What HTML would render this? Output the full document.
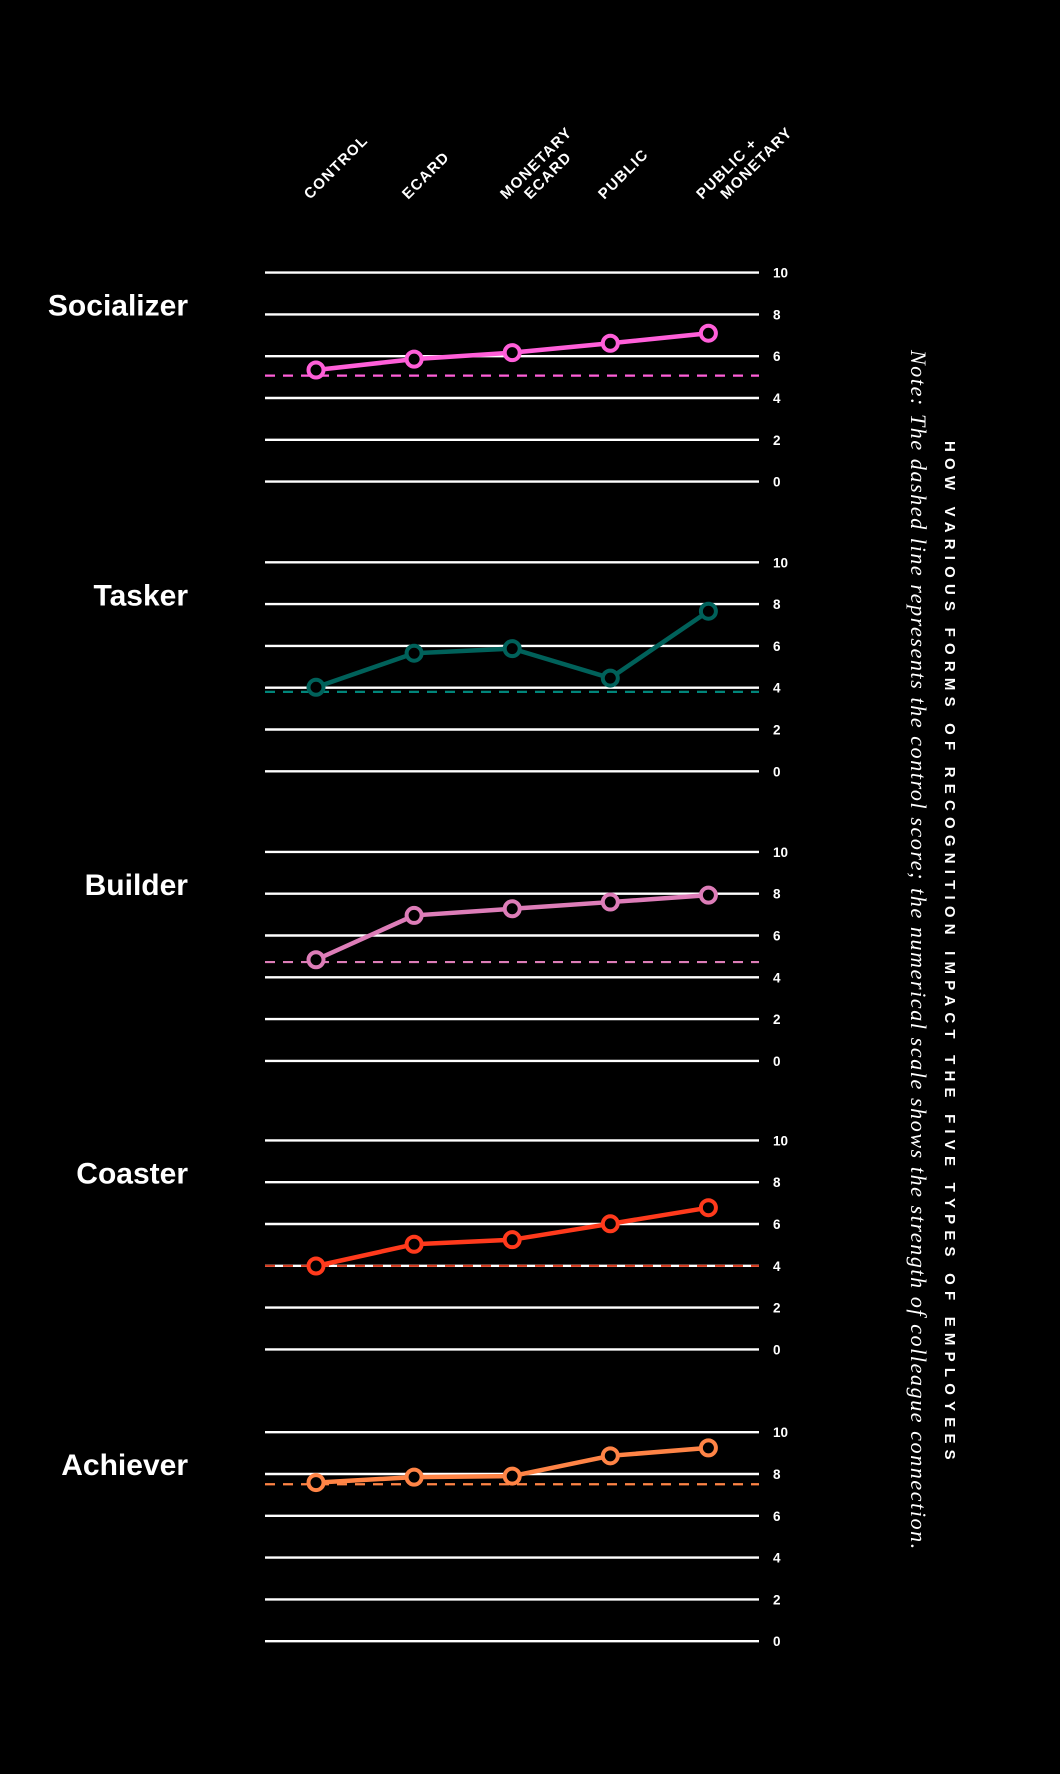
<!DOCTYPE html>
<html><head><meta charset="utf-8"><style>
html,body{margin:0;padding:0;background:#000;}
svg{display:block;}
text{font-family:"Liberation Sans",sans-serif;}
</style></head><body>
<svg id="chart" width="1060" height="1774" viewBox="0 0 1060 1774" xmlns="http://www.w3.org/2000/svg">
<rect width="1060" height="1774" fill="#000"/>
<g id="cats"></g>
<g id="panels"></g>
<text transform="translate(945,441) rotate(90)" fill="#fff" font-size="15" font-weight="bold" letter-spacing="6.2">HOW VARIOUS FORMS OF RECOGNITION IMPACT THE FIVE TYPES OF EMPLOYEES</text>
<text transform="translate(911,350) rotate(90)" fill="#fff" font-size="22" font-style="italic" letter-spacing="1.6" style="font-family:'Liberation Serif',serif">Note: The dashed line represents the control score; the numerical scale shows the strength of colleague connection.</text>
</svg>
<script>
const categories=[["CONTROL"],["ECARD"],["MONETARY","ECARD"],["PUBLIC"],["PUBLIC +","MONETARY"]];
const panelNames=["Socializer","Tasker","Builder","Coaster","Achiever"];
const panelColors=["#ff5fd9","#00615a","#dd7db8","#ff3a1c","#ff8446"];
const dashColors=["#ff5fd9","#00857a","#dd7db8","#d8391c","#ff8446"];
const socializerValues=[5.34,5.86,6.17,6.62,7.1];
const taskerValues=[4.02,5.65,5.87,4.46,7.66];
const builderValues=[4.84,6.96,7.28,7.6,7.93];
const coasterValues=[3.99,5.03,5.25,6.01,6.78];
const achieverValues=[7.59,7.85,7.9,8.87,9.25];
const controlScores=[5.07,3.8,4.73,4.0,7.51];
const tickValues=[0,2,4,6,8,10];
const seriesList=[socializerValues,taskerValues,builderValues,coasterValues,achieverValues];

const NS="http://www.w3.org/2000/svg";
const panelTop=[272.6,562.3,851.9,1140.4,1432.2];
const xL=265,xR=759,unit=20.9;
const xScale=i=>316+i*98.1;
function mk(tag,attrs,parent){const e=document.createElementNS(NS,tag);for(const k in attrs)e.setAttribute(k,attrs[k]);parent.appendChild(e);return e;}

const catG=document.getElementById('cats');
categories.forEach((lines,i)=>{
  const x=xScale(i)-6,y=200;
  const g=mk('g',{transform:`translate(${x},${y}) rotate(-45)`},catG);
  
  
  lines.forEach((s,j)=>{
    const t=mk('text',{x:j*17,y:j*17,fill:'#fff','font-size':'15','font-weight':'bold','letter-spacing':'1.3'},g);
    t.textContent=s;
  });
});

const pG=document.getElementById('panels');
seriesList.forEach((vals,p)=>{
  const top=panelTop[p];
  const yScale=v=>top+(10-v)*unit;
  const g=mk('g',{},pG);
  
  
  const lbl=mk('text',{x:188,y:top+43,fill:'#fff','font-size':'30','font-weight':'bold','text-anchor':'end'},g);
  
  
  lbl.textContent=panelNames[p];
  tickValues.forEach(tv=>{
    const y=yScale(tv);
    const ln=mk('line',{x1:xL,x2:xR,y1:y,y2:y,stroke:'#fff','stroke-width':2.4},g);
    
    
    const t=mk('text',{x:773,y:y+5,fill:'#fff','font-size':'13.5','font-weight':'bold'},g);
    
    
    t.textContent=tv;
  });
  const cy=yScale(controlScores[p]);
  const d=mk('line',{x1:xL,x2:xR,y1:cy,y2:cy,stroke:dashColors[p],'stroke-width':2.2,'stroke-dasharray':'10 8'},g);
  
  
  const pts=vals.map((v,i)=>xScale(i)+','+yScale(v)).join(' ');
  const pl=mk('polyline',{points:pts,fill:'none',stroke:panelColors[p],'stroke-width':4.5,'stroke-linejoin':'round'},g);
  
  
  vals.forEach((v,i)=>{
    const c=mk('circle',{cx:xScale(i),cy:yScale(v),r:7.5,fill:'#000',stroke:panelColors[p],'stroke-width':4},g);
    
    
  });
});
</script>
</body></html>
